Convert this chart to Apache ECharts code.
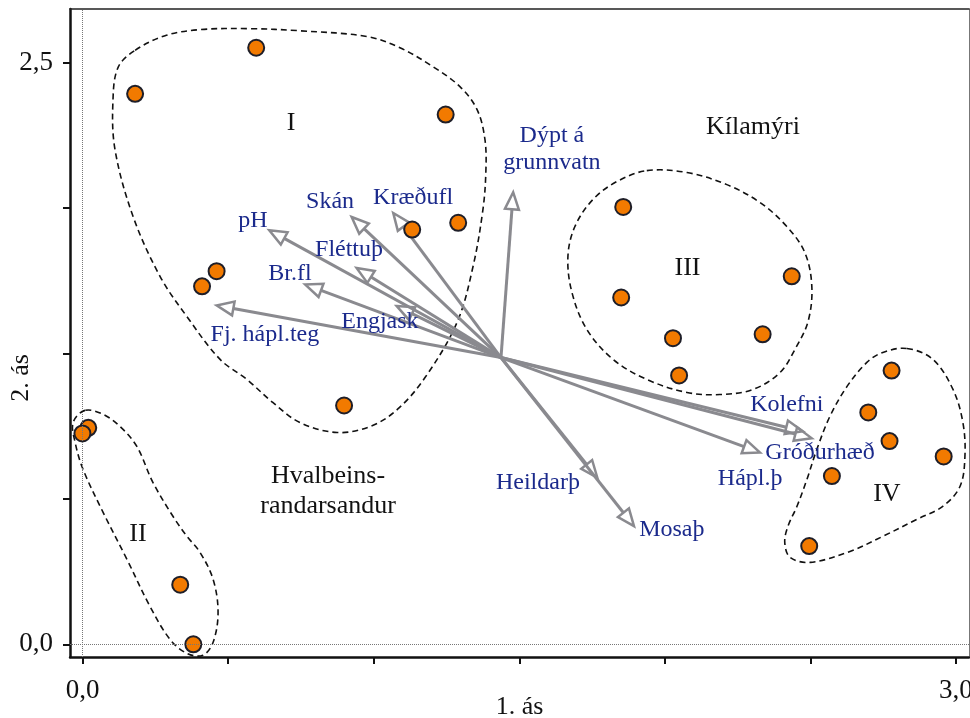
<!DOCTYPE html>
<html><head><meta charset="utf-8">
<script src="https://cdn.jsdelivr.net/npm/echarts@6/dist/echarts.min.js"></script>
<style>html,body{margin:0;padding:0;background:#fff}#c{width:970px;height:718px}</style>
</head><body><div id="c"></div>
<script>
// ---- axis ----
const xMin = -0.0437, xMax = 3.045;
const yMin = -0.0545, yMax = 2.7295;
const xTickValues = [0, 0.5, 1, 1.5, 2, 2.5, 3];
const xLabelValues = [0, 3];
const yTickValues = [0, 0.625, 1.25, 1.875, 2.5];
const yLabelValues = [0, 2.5];
const xAxisName = '1. ás';
const yAxisName = '2. ás';

// ---- sites (1. ás, 2. ás) ----
const sitesI = [[0.596, 2.563], [0.180, 2.365], [1.247, 2.276], [1.290, 1.811], [1.132, 1.782], [0.460, 1.603], [0.410, 1.538], [0.898, 1.026]];
const sitesII = [[0.019, 0.930], [-0.001, 0.906], [0.335, 0.256], [0.380, 0.000]];
const sitesIII = [[1.857, 1.879], [2.436, 1.581], [1.850, 1.490], [2.028, 1.315], [2.336, 1.332], [2.049, 1.155]];
const sitesIV = [[2.779, 1.176], [2.699, 0.996], [2.772, 0.873], [2.958, 0.807], [2.574, 0.723], [2.496, 0.422]];

// ---- environmental vectors ----
const arrowOrigin = [1.437, 1.232];
const envNames = ['Dýpt á\ngrunnvatn', 'pH', 'Skán', 'Kræðufl', 'Fléttuþ', 'Br.fl', 'Fj. hápl.teg', 'Engjask', 'Kolefni', 'Gróðurhæð', 'Hápl.þ', 'Heildarþ', 'Mosaþ'];
const envTips = [[1.479, 1.942], [0.641, 1.779], [0.924, 1.836], [1.067, 1.853], [0.941, 1.617], [0.764, 1.546], [0.460, 1.456], [1.079, 1.453], [2.474, 0.915], [2.505, 0.885], [2.327, 0.824], [1.768, 0.716], [1.894, 0.508]];
const envLabelAt = [[1.612, 2.125], [0.585, 1.821], [0.850, 1.902], [1.135, 1.919], [0.915, 1.696], [0.712, 1.593], [0.626, 1.331], [1.021, 1.387], [2.419, 1.030], [2.533, 0.824], [2.293, 0.713], [1.564, 0.696], [2.024, 0.494]];

// ---- group outlines ----
const hullI = [[0.180, 2.552], [0.283, 2.615], [0.403, 2.641], [0.575, 2.645], [0.746, 2.636], [0.977, 2.611], [1.090, 2.563], [1.203, 2.482], [1.296, 2.396], [1.355, 2.297], [1.382, 2.168], [1.385, 2.027], [1.375, 1.868], [1.341, 1.623], [1.286, 1.383], [1.176, 1.146], [1.081, 1.009], [0.988, 0.936], [0.874, 0.910], [0.746, 0.953], [0.653, 1.039], [0.564, 1.138], [0.472, 1.224], [0.358, 1.408], [0.266, 1.580], [0.173, 1.838], [0.111, 2.125], [0.104, 2.340], [0.122, 2.480]];
const hullII = [[0.008, 1.005], [-0.033, 0.953], [-0.026, 0.867], [0.001, 0.752], [0.070, 0.567], [0.152, 0.365], [0.231, 0.163], [0.300, 0.021], [0.358, -0.039], [0.413, -0.047], [0.448, 0.009], [0.465, 0.137], [0.448, 0.279], [0.403, 0.395], [0.358, 0.464], [0.310, 0.550], [0.241, 0.696], [0.186, 0.850], [0.128, 0.936], [0.070, 0.988]];
const hullIII = [[1.938, 2.035], [2.076, 2.027], [2.213, 1.975], [2.327, 1.898], [2.419, 1.795], [2.481, 1.683], [2.505, 1.537], [2.492, 1.387], [2.447, 1.267], [2.396, 1.168], [2.303, 1.095], [2.189, 1.073], [2.076, 1.082], [1.938, 1.138], [1.822, 1.224], [1.732, 1.353], [1.681, 1.511], [1.667, 1.666], [1.691, 1.795], [1.753, 1.911], [1.835, 1.988]];
const hullIV = [[2.832, 1.271], [2.921, 1.224], [2.990, 1.095], [3.024, 0.953], [3.031, 0.807], [3.014, 0.678], [2.955, 0.593], [2.866, 0.537], [2.749, 0.464], [2.636, 0.399], [2.499, 0.352], [2.430, 0.374], [2.412, 0.438], [2.423, 0.507], [2.454, 0.593], [2.488, 0.708], [2.522, 0.837], [2.567, 0.979], [2.626, 1.108], [2.694, 1.211], [2.749, 1.254]];

// ---- region labels ----
const regionNames = ['I', 'II', 'III', 'IV', 'Kílamýri', 'Hvalbeins-\nrandarsandur'];
const regionLabelAt = [[0.716, 2.237], [0.190, 0.472], [2.078, 1.617], [2.763, 0.644], [2.303, 2.220], [0.843, 0.657]];

const hulls = [hullI, hullII, hullIII, hullIV];
const allSites = sitesI.concat(sitesII, sitesIII, sitesIV);
const SERIF = '"Liberation Serif", "Times New Roman", serif';
const fmt = v => v.toFixed(1).replace('.', ',');

const chart = echarts.init(document.getElementById('c'), null, {renderer: 'canvas'});
chart.setOption({
  animation: false,
  backgroundColor: '#fff',
  grid: {left: 70, right: 1, top: 9, bottom: 61, containLabel: false, outerBoundsMode: 'none'},
  xAxis: [{
    type: 'value', min: xMin, max: xMax, position: 'bottom',
    name: xAxisName, nameLocation: 'middle', nameGap: 37, nameMoveOverlap: false,
    nameTextStyle: {fontFamily: SERIF, fontSize: 26, color: '#111'},
    axisLine: {onZero: false, lineStyle: {color: '#111', width: 2.5}},
    axisTick: {show: true, customValues: xTickValues, length: 7, lineStyle: {color: '#111', width: 2}},
    axisLabel: {customValues: xLabelValues, formatter: fmt, margin: 20, fontFamily: SERIF, fontSize: 27, color: '#111'},
    splitLine: {show: false}
  }, {
    type: 'value', min: xMin, max: xMax, position: 'top',
    axisLine: {onZero: false, lineStyle: {color: '#222', width: 1.5}},
    axisTick: {show: false}, axisLabel: {show: false}, splitLine: {show: false}
  }],
  yAxis: [{
    type: 'value', min: yMin, max: yMax, position: 'left',
    name: yAxisName, nameLocation: 'middle', nameGap: 36, nameRotate: 90, nameMoveOverlap: false,
    nameTextStyle: {fontFamily: SERIF, fontSize: 26, color: '#111', padding: [0, 90, 0, 0]},
    axisLine: {onZero: false, lineStyle: {color: '#111', width: 2.5}},
    axisTick: {show: true, customValues: yTickValues, length: 7, lineStyle: {color: '#111', width: 2}},
    axisLabel: {customValues: yLabelValues, formatter: fmt, margin: 17, fontFamily: SERIF, fontSize: 27, color: '#111'},
    splitLine: {show: false}
  }, {
    type: 'value', min: yMin, max: yMax, position: 'right',
    axisLine: {onZero: false, lineStyle: {color: '#777', width: 1}},
    axisTick: {show: false}, axisLabel: {show: false}, splitLine: {show: false}
  }],
  series: [
    {
      type: 'custom', name: 'hulls', z: 1, silent: true,
      data: hulls.map(h => h[0]),
      renderItem: (params, api) => {
        const pts = hulls[params.dataIndex].map(p => api.coord(p));
        return {type: 'polygon', shape: {points: pts, smooth: 0.35},
          style: {fill: 'none', stroke: '#111', lineWidth: 1.6, lineDash: [6, 4]}};
      }
    },
    {
      type: 'custom', name: 'vectors', z: 2, silent: true,
      data: envTips,
      renderItem: (params, api) => {
        const o = api.coord(arrowOrigin);
        const t = api.coord([api.value(0), api.value(1)]);
        const dx = t[0] - o[0], dy = t[1] - o[1], L = Math.hypot(dx, dy);
        const ux = dx / L, uy = dy / L;
        const hl = 17, hw = 7;
        const bx = t[0] - ux * hl, by = t[1] - uy * hl;
        return {type: 'group', children: [
          {type: 'line', shape: {x1: o[0], y1: o[1], x2: bx, y2: by}, style: {stroke: '#8a8a8f', lineWidth: 3}},
          {type: 'polygon', shape: {points: [[t[0], t[1]], [bx - uy * hw, by + ux * hw], [bx + uy * hw, by - ux * hw]]},
            style: {fill: 'none', stroke: '#8a8a8f', lineWidth: 2.5}}
        ]};
      }
    },
    {
      type: 'scatter', name: 'sites', z: 3, silent: true,
      data: allSites, symbol: 'circle', symbolSize: 16,
      itemStyle: {color: '#F27A00', borderColor: '#1e1e28', borderWidth: 2, opacity: 1},
      markLine: {
        silent: true, symbol: 'none', label: {show: false},
        lineStyle: {type: 'dotted', color: '#777', width: 1},
        data: [{xAxis: 0}, {yAxis: 0}]
      }
    },
    {
      type: 'custom', name: 'envLabels', z: 4, silent: true,
      data: envLabelAt,
      renderItem: (params, api) => {
        const p = api.coord([api.value(0), api.value(1)]);
        return {type: 'text', x: p[0], y: p[1], style: {text: envNames[params.dataIndex],
          font: '24px ' + SERIF, fill: '#1b2a8c', align: 'center', verticalAlign: 'middle', lineHeight: 27}};
      }
    },
    {
      type: 'custom', name: 'regionLabels', z: 4, silent: true,
      data: regionLabelAt,
      renderItem: (params, api) => {
        const p = api.coord([api.value(0), api.value(1)]);
        return {type: 'text', x: p[0], y: p[1], style: {text: regionNames[params.dataIndex],
          font: '26px ' + SERIF, fill: '#111', align: 'center', verticalAlign: 'middle', lineHeight: 30}};
      }
    }
  ]
});
</script></body></html>
